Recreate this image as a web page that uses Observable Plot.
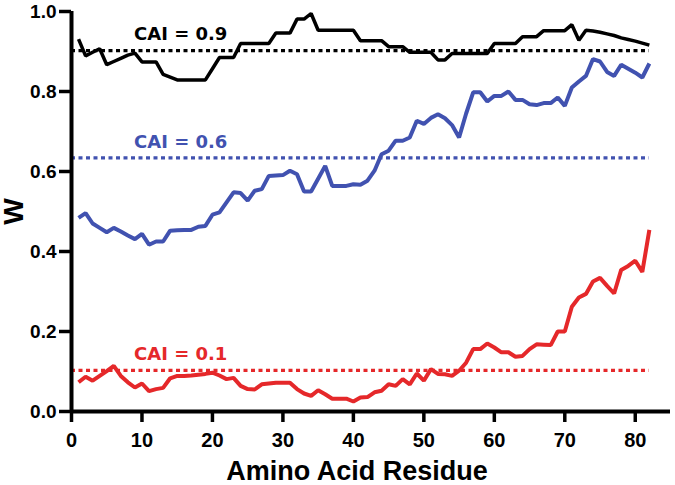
<!DOCTYPE html>
<html><head><meta charset="utf-8">
<script src="https://cdn.jsdelivr.net/npm/d3@7"></script>
<script src="https://cdn.jsdelivr.net/npm/@observablehq/plot@0.6"></script>
<style>body{margin:0;background:#fff}</style>
</head><body><div id="chart"></div>
<script>
const residues = [1,2,3,4,5,6,7,8,9,10,11,12,13,14,15,16,17,18,19,20,21,22,23,24,25,26,27,28,29,30,31,32,33,34,35,36,37,38,39,40,41,42,43,44,45,46,47,48,49,50,51,52,53,54,55,56,57,58,59,60,61,62,63,64,65,66,67,68,69,70,71,72,73,74,75,76,77,78,79,80,81,82];

const wHigh = [0.931,0.889,0.898,0.907,0.867,0.875,0.883,0.891,0.896,0.874,
  0.874,0.874,0.843,0.836,0.829,0.829,0.829,0.829,0.829,0.857,
  0.885,0.885,0.885,0.920,0.920,0.920,0.920,0.920,0.946,0.946,
  0.946,0.981,0.981,0.995,0.953,0.953,0.953,0.953,0.953,0.953,
  0.927,0.927,0.927,0.927,0.912,0.912,0.912,0.898,0.898,0.898,
  0.898,0.879,0.879,0.895,0.895,0.895,0.895,0.895,0.895,0.920,
  0.920,0.920,0.920,0.937,0.937,0.937,0.952,0.952,0.952,0.952,
  0.967,0.928,0.953,0.951,0.948,0.944,0.940,0.934,0.930,0.926,
  0.921,0.916];

const wMid = [0.484,0.496,0.470,0.459,0.448,0.459,0.450,0.440,0.431,0.444,
  0.417,0.425,0.425,0.452,0.453,0.454,0.454,0.462,0.464,0.492,
  0.498,0.523,0.548,0.546,0.527,0.552,0.556,0.589,0.590,0.591,
  0.602,0.593,0.550,0.550,0.582,0.614,0.564,0.564,0.564,0.568,
  0.567,0.577,0.602,0.643,0.652,0.677,0.677,0.685,0.727,0.719,
  0.734,0.743,0.733,0.716,0.685,0.745,0.798,0.798,0.775,0.789,
  0.789,0.800,0.779,0.779,0.768,0.766,0.771,0.771,0.785,0.764,
  0.810,0.825,0.839,0.881,0.875,0.849,0.839,0.867,0.857,0.847,
  0.835,0.870];

const wLow = [0.073,0.087,0.077,0.089,0.101,0.114,0.089,0.073,0.060,0.070,
  0.051,0.056,0.059,0.083,0.089,0.089,0.090,0.092,0.094,0.097,
  0.090,0.081,0.084,0.064,0.056,0.055,0.068,0.070,0.072,0.072,
  0.072,0.056,0.045,0.039,0.053,0.043,0.032,0.032,0.032,0.025,
  0.035,0.036,0.048,0.052,0.068,0.064,0.081,0.068,0.095,0.077,
  0.106,0.094,0.093,0.089,0.102,0.122,0.156,0.156,0.170,0.160,
  0.148,0.148,0.137,0.139,0.156,0.168,0.167,0.166,0.200,0.200,
  0.262,0.285,0.294,0.325,0.334,0.314,0.295,0.354,0.364,0.377,
  0.349,0.454];

const caiLabels = ["CAI = 0.9", "CAI = 0.6", "CAI = 0.1"];
const caiValues = [0.902, 0.634, 0.103];
const seriesColors = ["#000000", "#4152b0", "#e5282a"];
const xTicks = [0, 10, 20, 30, 40, 50, 60, 70, 80];
const yTicks = [0.0, 0.2, 0.4, 0.6, 0.8, 1.0];

const seriesValues = [wHigh, wMid, wLow];
const lineWidths = [3.5, 4, 4];
const cai = caiLabels.map((label, i) => ({label, value: caiValues[i], color: seriesColors[i]}));

const tickFont = "'Liberation Sans', Arial, sans-serif";

const marks = [];
cai.forEach(c => {
  marks.push(Plot.ruleY([c], {y: "value", x1: 0, x2: 82, stroke: c.color, strokeWidth: 3.2, strokeDasharray: "4,3.5"}));
});
seriesValues.forEach((vals, i) => {
  const rows = residues.map((r, j) => ({residue: r, w: vals[j]}));
  marks.push(Plot.line(rows, {x: "residue", y: "w", stroke: seriesColors[i], strokeWidth: lineWidths[i], strokeLinejoin: "miter", strokeLinecap: "butt"}));
});
marks.push(Plot.text(cai, {x: 15.5, y: "value", text: "label", fill: "color", dy: -16,
  fontSize: 18, fontWeight: "bold", fontFamily: "'DejaVu Sans', sans-serif", textAnchor: "middle", lineAnchor: "middle"}));
marks.push(Plot.ruleX([0], {y1: 0, y2: 1, strokeWidth: 4}));
marks.push(Plot.ruleY([0], {x1: 0, x2: 85, strokeWidth: 4}));
marks.push(Plot.axisY({ticks: yTicks, tickFormat: d3.format(".1f"), tickSize: 12, tickPadding: 3, strokeWidth: 3.5,
  fontSize: 19, fontWeight: "bold", fontFamily: tickFont, label: null}));
marks.push(Plot.axisX({ticks: xTicks, tickFormat: d3.format("d"), tickSize: 11, tickPadding: 10, strokeWidth: 3.5,
  fontSize: 20, fontWeight: "bold", fontFamily: tickFont, label: null}));
marks.push(Plot.text(["W"], {text: d => d, frameAnchor: "left", dx: -57, rotate: -90,
  fontSize: 28, fontWeight: "bold", fontFamily: tickFont, textAnchor: "middle", lineAnchor: "middle"}));
marks.push(Plot.text(["Amino Acid Residue"], {text: d => d, frameAnchor: "bottom", dx: -14, dy: 60,
  fontSize: 27, fontWeight: "bold", fontFamily: tickFont, textAnchor: "middle", lineAnchor: "middle"}));

const chart = Plot.plot({
  width: 675,
  height: 485,
  marginLeft: 71,
  marginRight: 5,
  marginTop: 11,
  marginBottom: 74,
  x: {domain: [0, 85]},
  y: {domain: [0, 1]},
  style: {background: "#fff", color: "#000", fontFamily: tickFont, overflow: "visible"},
  marks
});
document.getElementById("chart").appendChild(chart);
</script>
</body></html>
